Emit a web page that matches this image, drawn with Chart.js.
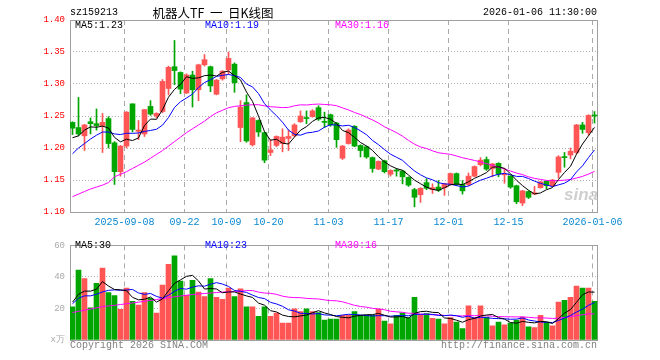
<!DOCTYPE html>
<html>
<head>
<meta charset="utf-8">
<script src="https://cdn.jsdelivr.net/npm/chart.js@4.4.1/dist/chart.umd.min.js"></script>
<style>
  body { margin: 0; background: #fff; }
  #wrap { position: relative; width: 660px; height: 360px; overflow: hidden;
          font-family: "Liberation Mono", "DejaVu Sans Mono", monospace; font-size: 10px; }
  canvas { position: absolute; left: 0; }
  .t { position: absolute; line-height: 12px; height: 12px; white-space: pre; }
</style>
</head>
<body>
<div id="wrap">
  <canvas id="kline" width="660" height="235" style="top:0"></canvas>
  <canvas id="volume" width="660" height="125" style="top:235px"></canvas>

  <div class="t" style="left:70px;top:7px;color:#000">sz159213</div>
  <div class="t" style="left:113px;top:6px;width:200px;text-align:center;font-family:'Noto Sans CJK SC';font-size:12.5px;line-height:14px;color:#000">机器人TF  一  日K线图</div>
  <div class="t" style="right:63px;top:7px;color:#000">2026-01-06 11:30:00</div>

  <div class="t" style="left:75px;top:20px;color:#000">MA5:1.23</div>
  <div class="t" style="left:205px;top:20px;color:#0000ff">MA10:1.19</div>
  <div class="t" style="left:335px;top:20px;color:#ff00ff">MA30:1.16</div>

  <div class="t" style="left:75px;top:240px;color:#000">MA5:30</div>
  <div class="t" style="left:205px;top:240px;color:#0000ff">MA10:23</div>
  <div class="t" style="left:335px;top:240px;color:#ff00ff">MA30:16</div>

  <div class="t" style="left:564px;top:185px;font-family:'Liberation Sans';font-style:italic;font-weight:bold;font-size:17px;line-height:20px;height:20px;color:#cfcfcf">sina</div>

  <div class="t" style="left:70px;top:340px;color:#808080">Copyright 2026 SINA.COM</div>
  <div class="t" style="right:63px;top:340px;color:#808080">http://finance.sina.com.cn</div>
</div>

<script>
// trading days shown
const dates = [
  '2025-08-26','2025-08-27','2025-08-28','2025-08-29',
  '2025-09-01','2025-09-02','2025-09-03','2025-09-04','2025-09-05',
  '2025-09-08','2025-09-09','2025-09-10','2025-09-11','2025-09-12',
  '2025-09-15','2025-09-16','2025-09-17','2025-09-18','2025-09-19',
  '2025-09-22','2025-09-23','2025-09-24','2025-09-25','2025-09-26',
  '2025-09-29','2025-09-30',
  '2025-10-09','2025-10-10','2025-10-13','2025-10-14','2025-10-15','2025-10-16','2025-10-17',
  '2025-10-20','2025-10-21','2025-10-22','2025-10-23','2025-10-24',
  '2025-10-27','2025-10-28','2025-10-29','2025-10-30','2025-10-31',
  '2025-11-03','2025-11-04','2025-11-05','2025-11-06','2025-11-07',
  '2025-11-10','2025-11-11','2025-11-12','2025-11-13','2025-11-14',
  '2025-11-17','2025-11-18','2025-11-19','2025-11-20','2025-11-21',
  '2025-11-24','2025-11-25','2025-11-26','2025-11-27','2025-11-28',
  '2025-12-01','2025-12-02','2025-12-03','2025-12-04','2025-12-05',
  '2025-12-08','2025-12-09','2025-12-10','2025-12-11','2025-12-12',
  '2025-12-15','2025-12-16','2025-12-17','2025-12-18','2025-12-19',
  '2025-12-22','2025-12-23','2025-12-24','2025-12-25','2025-12-26',
  '2025-12-29','2025-12-30','2025-12-31',
  '2026-01-05','2026-01-06'
];

const opens = [
  1.240,1.232,1.219,1.241,1.238,1.235,1.246,1.208,1.163,1.203,
  1.269,1.226,1.222,1.265,1.250,1.257,1.293,1.327,1.318,1.286,
  1.314,1.291,1.330,1.327,1.284,1.308,1.322,1.331,1.232,1.271,
  1.205,1.243,1.224,1.193,1.204,1.207,1.215,1.219,1.241,1.247,
  1.249,1.263,1.241,1.252,1.239,1.184,1.207,1.234,1.204,1.202,
  1.185,1.167,1.180,1.159,1.165,1.164,1.154,1.135,1.127,1.146,
  1.135,1.139,1.138,1.143,1.160,1.143,1.143,1.156,1.174,1.182,
  1.168,1.176,1.158,1.156,1.141,1.114,1.132,1.128,1.138,1.148,
  1.141,1.162,1.186,1.189,1.193,1.236,1.224,1.251
];
const highs = [
  1.241,1.279,1.237,1.247,1.261,1.254,1.249,1.210,1.204,1.257,
  1.269,1.243,1.260,1.274,1.255,1.307,1.328,1.368,1.319,1.316,
  1.320,1.331,1.346,1.328,1.307,1.321,1.350,1.333,1.274,1.283,
  1.248,1.244,1.225,1.213,1.219,1.230,1.228,1.238,1.258,1.258,
  1.260,1.266,1.256,1.253,1.240,1.204,1.230,1.235,1.205,1.203,
  1.186,1.180,1.181,1.166,1.168,1.165,1.155,1.137,1.138,1.152,
  1.144,1.149,1.145,1.161,1.161,1.149,1.161,1.172,1.185,1.186,
  1.176,1.177,1.168,1.157,1.142,1.134,1.133,1.140,1.148,1.149,
  1.151,1.188,1.193,1.200,1.237,1.240,1.252,1.257
];
const lows = [
  1.221,1.219,1.196,1.222,1.228,1.193,1.200,1.143,1.156,1.200,
  1.225,1.213,1.218,1.251,1.247,1.255,1.283,1.299,1.285,1.285,
  1.264,1.274,1.328,1.288,1.283,1.306,1.315,1.287,1.210,1.209,
  1.203,1.218,1.177,1.188,1.202,1.194,1.196,1.218,1.240,1.238,
  1.248,1.243,1.232,1.234,1.201,1.182,1.206,1.202,1.186,1.184,
  1.162,1.166,1.161,1.156,1.156,1.144,1.140,1.108,1.115,1.135,
  1.129,1.132,1.126,1.142,1.141,1.128,1.141,1.155,1.172,1.165,
  1.155,1.155,1.145,1.137,1.113,1.110,1.121,1.127,1.137,1.136,
  1.140,1.153,1.170,1.183,1.191,1.223,1.220,1.239
];
const closes = [
  1.231,1.222,1.236,1.238,1.235,1.240,1.207,1.163,1.203,1.256,
  1.229,1.228,1.260,1.253,1.254,1.304,1.326,1.321,1.292,1.314,
  1.291,1.330,1.338,1.297,1.306,1.320,1.340,1.302,1.264,1.211,
  1.247,1.225,1.181,1.197,1.218,1.217,1.218,1.236,1.250,1.246,
  1.258,1.245,1.240,1.236,1.213,1.203,1.228,1.203,1.196,1.186,
  1.168,1.179,1.163,1.165,1.164,1.155,1.142,1.123,1.137,1.137,
  1.138,1.134,1.144,1.160,1.143,1.133,1.156,1.171,1.181,1.167,
  1.175,1.159,1.159,1.139,1.116,1.133,1.123,1.130,1.147,1.141,
  1.150,1.186,1.185,1.195,1.236,1.229,1.251,1.250
];
// volume, in 万
const volumes = [
  21.0,44.4,39.0,20.4,36.0,45.6,30.0,28.2,19.4,33.0,
  24.6,22.2,30.0,26.4,17.0,34.8,48.0,53.4,37.4,28.4,
  37.8,30.4,27.6,39.0,27.0,25.8,33.0,27.6,32.4,21.0,
  21.0,15.0,21.0,15.0,17.0,10.8,10.8,19.8,18.0,19.8,
  18.0,17.4,12.6,13.2,13.2,15.6,15.6,18.0,15.6,15.6,
  15.6,19.6,12.0,10.2,15.6,17.2,14.2,27.0,16.0,16.8,
  13.8,13.2,10.2,14.2,11.4,7.2,21.6,14.2,21.6,14.6,
  9.0,11.4,9.6,10.8,12.6,14.6,8.4,7.8,15.6,11.4,
  9.0,24.0,25.2,27.0,34.2,33.0,33.0,24.6
];

// moving average values for days whose window starts before the first candle
const ma5Head = [1.216, 1.219, 1.228, 1.233];
const ma10Head = [1.191, 1.200, 1.207, 1.214, 1.220, 1.225, 1.225, 1.222, 1.221];
const ma30Head = [
  1.124,1.128,1.132,1.136,1.139,1.142,1.146,1.155,1.159,1.163,
  1.168,1.173,1.178,1.184,1.190,1.196,1.203,1.210,1.217,1.224,
  1.230,1.236,1.242,1.249,1.255,1.259,1.263,1.265,1.266
];
const volMa5Head = [24, 29, 31, 31];
const volMa10Head = [23, 26.5, 28, 28, 29, 30.5, 31.5, 31.8, 31.5];
const volMa30Head = [
  17.4,18.2,18.9,19.6,20.4,21.2,21.6,22.0,22.5,23.0,
  23.5,24.0,24.6,25.1,25.7,26.2,26.8,27.4,27.9,28.4,
  28.8,29.2,29.5,29.8,30.1,30.4,30.6,30.8,31.0
];

// x axis labels
const tickDates = ['2025-09-08','2025-09-22','2025-10-09','2025-10-20','2025-11-03',
                   '2025-11-17','2025-12-01','2025-12-15','2026-01-06'];
const tickText = ['2025-09-08','09-22','10-09','10-20','11-03','11-17','12-01','12-15','2026-01-06'];
const priceTicks = [1.10, 1.15, 1.20, 1.25, 1.30, 1.35, 1.40];
const volumeTicks = [0, 20, 40, 60];

const RED = '#ff5555';
const GREEN = '#00a600';
const FONT = 'Liberation Mono';

function movingAverage(values, n, head) {
  return values.map((v, i) => {
    if (i < n - 1) return head[i];
    let s = 0;
    for (let k = i - n + 1; k <= i; k++) s += values[k];
    return s / n;
  });
}

const candleColors = closes.map((c, i) => (c >= opens[i] ? RED : GREEN));
const tickIdx = tickDates.map(d => dates.indexOf(d));

// draws the grey box round the plot area
const framePlugin = {
  id: 'frame',
  beforeDatasetsDraw(chart) {
    const a = chart.chartArea;
    const ctx = chart.ctx;
    ctx.save();
    ctx.strokeStyle = '#a0a0a0';
    ctx.lineWidth = 1;
    ctx.strokeRect(Math.round(a.left) + 0.5, Math.round(a.top) + 0.5,
                   Math.round(a.right - a.left) - 1, Math.round(a.bottom - a.top));
    ctx.restore();
  }
};

function xAxis(showLabels) {
  return {
    type: 'linear',
    min: -0.4167,
    max: dates.length - 0.4167,
    offset: false,
    afterBuildTicks: s => { s.ticks = tickIdx.map(i => ({ value: i - 0.333 })); },
    ticks: {
      display: showLabels, autoSkip: false, maxRotation: 0, padding: 4,
      color: '#0a88d0', font: { family: FONT, size: 10 },
      callback: (v, i) => tickText[i]
    },
    grid: { offset: false, drawTicks: false, color: '#aaaaaa', lineWidth: 1 },
    border: { display: false, dash: [5, 4] },
    afterFit: s => { s.height = showLabels ? 23 : 0; }
  };
}

function yAxis(ticks, color, fmt) {
  const lo = ticks[0], hi = ticks[ticks.length - 1];
  return {
    type: 'linear',
    min: lo, max: hi,
    afterBuildTicks: s => { s.ticks = ticks.map(v => ({ value: v })); },
    ticks: { color: color, padding: 5, font: { family: FONT, size: 9 }, callback: fmt },
    grid: {
      drawTicks: false,
      color: c => (c.tick && (c.tick.value === lo || c.tick.value === hi)) ? 'rgba(0,0,0,0)' : '#b0b0b0'
    },
    border: { display: false, dash: [1, 2] },
    afterFit: s => { s.width = 70; }
  };
}

function lineSet(values, color) {
  return {
    type: 'line',
    data: values.map((y, i) => ({ x: i, y: y })),
    borderColor: color, borderWidth: 1, pointRadius: 0, tension: 0
  };
}

const commonOptions = {
  responsive: false,
  animation: false,
  events: [],
  plugins: { legend: { display: false }, tooltip: { enabled: false } }
};

// price chart
new Chart(document.getElementById('kline'), {
  type: 'bar',
  data: {
    datasets: [
      lineSet(movingAverage(closes, 5, ma5Head), '#000000'),
      lineSet(movingAverage(closes, 10, ma10Head), '#0000ff'),
      lineSet(movingAverage(closes, 30, ma30Head), '#ff00ff'),
      {
        data: opens.map((o, i) => ({ x: i, y: [o, closes[i]] })),
        backgroundColor: candleColors, barThickness: 5, grouped: false, minBarLength: 1
      },
      {
        data: lows.map((l, i) => ({ x: i, y: [l, highs[i]] })),
        backgroundColor: candleColors, barThickness: 1, grouped: false, minBarLength: 1
      }
    ]
  },
  options: {
    ...commonOptions,
    layout: { padding: { left: 0, right: 62, top: 20, bottom: 0 } },
    scales: {
      x: xAxis(true),
      y: yAxis(priceTicks, '#ff0000', v => v.toFixed(2))
    }
  },
  plugins: [framePlugin]
});

// volume chart
new Chart(document.getElementById('volume'), {
  type: 'bar',
  data: {
    datasets: [
      lineSet(movingAverage(volumes, 5, volMa5Head), '#000000'),
      lineSet(movingAverage(volumes, 10, volMa10Head), '#0000ff'),
      lineSet(movingAverage(volumes, 30, volMa30Head), '#ff00ff'),
      {
        data: volumes.map((v, i) => ({ x: i, y: v })),
        backgroundColor: candleColors, barThickness: 5, grouped: false
      }
    ]
  },
  options: {
    ...commonOptions,
    layout: { padding: { left: 0, right: 62, top: 6, bottom: 20 } },
    scales: {
      x: xAxis(false),
      y: yAxis(volumeTicks, '#aaaaaa', v => (v === 0 ? 'x万' : String(v)))
    }
  },
  plugins: [framePlugin]
});
</script>
</body>
</html>
